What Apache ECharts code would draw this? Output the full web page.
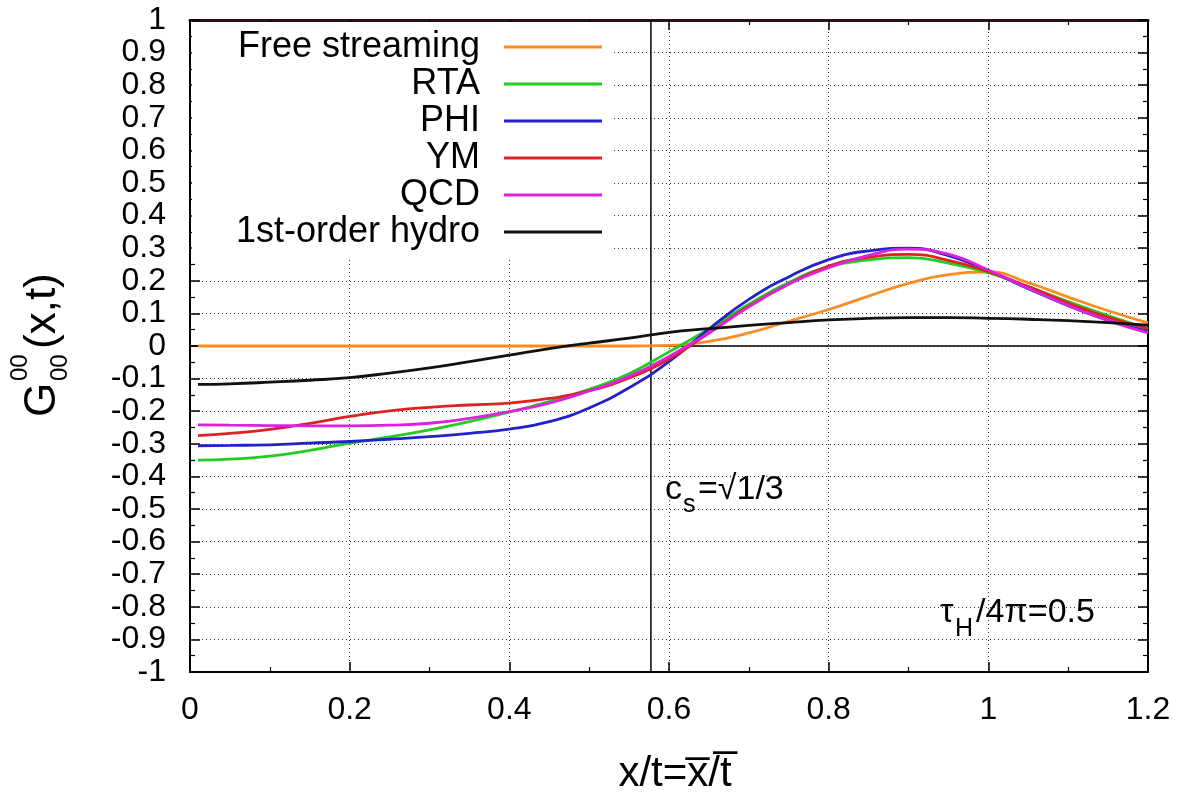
<!DOCTYPE html>
<html>
<head>
<meta charset="utf-8">
<script src="https://cdn.jsdelivr.net/npm/echarts@6/dist/echarts.min.js"></script>
<style>
html,body{margin:0;padding:0;background:#fff;}
#chart{width:1179px;height:795px;}
</style>
</head>
<body>
<div id="chart"></div>
<script>
// ---- data ----
const xValues = [0.01,0.05,0.10,0.15,0.20,0.25,0.30,0.35,0.40,0.45,0.50,0.55,0.60,0.65,0.70,0.75,0.80,0.85,0.90,0.95,1.00,1.05,1.10,1.15,1.20];
const freeStreaming = [0,0,0,0,0,0,0,0,0,0,0,0,0.002,0.014,0.040,0.076,0.112,0.153,0.192,0.219,0.227,0.194,0.150,0.108,0.071];
const rta   = [-0.350,-0.347,-0.338,-0.320,-0.298,-0.279,-0.257,-0.232,-0.203,-0.170,-0.133,-0.085,-0.018,0.052,0.128,0.195,0.243,0.264,0.271,0.254,0.225,0.182,0.136,0.093,0.052];
const phi   = [-0.306,-0.305,-0.303,-0.298,-0.293,-0.286,-0.278,-0.268,-0.255,-0.232,-0.190,-0.128,-0.048,0.052,0.143,0.212,0.265,0.292,0.300,0.277,0.231,0.176,0.124,0.079,0.045];
const ym    = [-0.275,-0.268,-0.256,-0.237,-0.216,-0.199,-0.188,-0.181,-0.175,-0.161,-0.137,-0.098,-0.040,0.040,0.122,0.190,0.245,0.272,0.281,0.263,0.228,0.182,0.132,0.088,0.054];
const qcd   = [-0.242,-0.243,-0.244,-0.245,-0.245,-0.243,-0.237,-0.222,-0.201,-0.175,-0.138,-0.093,-0.032,0.040,0.120,0.190,0.240,0.278,0.297,0.282,0.233,0.177,0.124,0.078,0.040];
const hydro = [-0.118,-0.116,-0.111,-0.105,-0.097,-0.083,-0.067,-0.048,-0.028,-0.008,0.009,0.024,0.042,0.053,0.063,0.072,0.080,0.085,0.087,0.087,0.085,0.082,0.078,0.072,0.064];
const seriesNames = ['Free streaming','RTA','PHI','YM','QCD','1st-order hydro'];
const seriesColors = ['#ff8c22','#22cc22','#2222cc','#dd2222','#dd22dd','#111111'];
const xTickLabels = ['0','0.2','0.4','0.6','0.8','1','1.2'];
const yTickLabels = ['-1','-0.9','-0.8','-0.7','-0.6','-0.5','-0.4','-0.3','-0.2','-0.1','0','0.1','0.2','0.3','0.4','0.5','0.6','0.7','0.8','0.9','1'];
const soundSpeed = Math.sqrt(1/3);
const xRange = [0, 1.2];
const yRange = [-1, 1];

const FONT = '"Liberation Sans", Arial, sans-serif';
const allSeries = [freeStreaming, rta, phi, ym, qcd, hydro];

function pairs(ys){ return xValues.map((x,i)=>[x, ys[i]]); }

const chart = echarts.init(document.getElementById('chart'), null, {renderer:'canvas'});

const series = [
  { name:'zero', type:'line', data:[[xRange[0],0],[xRange[1],0]], symbol:'none', silent:true,
    lineStyle:{color:'#000', width:1.5}, z:1 },
  { name:'cs', type:'line', data:[[soundSpeed,yRange[0]],[soundSpeed,yRange[1]]], symbol:'none', silent:true,
    lineStyle:{color:'#000', width:1.5}, z:1 }
];
allSeries.forEach((ys,i)=>{
  series.push({
    name: seriesNames[i], type:'line', data: pairs(ys), symbol:'none', showSymbol:false,
    smooth: 0.5, lineStyle:{color: seriesColors[i], width:2.8}, itemStyle:{color: seriesColors[i]}, z: 3+i
  });
});

const tickCommon = { show:true, inside:true, length:10, lineStyle:{color:'#000', width:1.5} };
const minorCommon = { show:true, splitNumber:2, length:5, lineStyle:{color:'#000', width:1.2} };

const option = {
  animation:false,
  backgroundColor:'#fff',
  grid:{ left:190, right:31, top:20, bottom:123, containLabel:false },
  legend:{
    data: seriesNames, orient:'vertical', left:192, top:22, align:'right',
    backgroundColor:'#fff', padding:[7,10,8,0], itemGap:1,
    icon:'rect', itemWidth:98, itemHeight:3, z:10,
    textStyle:{ fontFamily:FONT, fontSize:36, color:'#000', width:288, align:'right', lineHeight:36, padding:[0,19,0,0] }
  },
  xAxis:[
    { type:'value', min:xRange[0], max:xRange[1], interval:0.2, position:'bottom',
      axisLine:{show:true, onZero:false, lineStyle:{color:'#000', width:2}},
      axisTick: tickCommon, minorTick: minorCommon,
      splitLine:{show:true, lineStyle:{color:'#333', width:1, type:[1,3]}},
      axisLabel:{ fontFamily:FONT, fontSize:32, color:'#000', margin:22,
        formatter:(v)=>xTickLabels[Math.round(v/0.2)] } },
    { type:'value', min:xRange[0], max:xRange[1], interval:0.2, position:'top',
      axisLine:{show:true, onZero:false, lineStyle:{color:'#2a0f1e', width:3}},
      axisTick: tickCommon, minorTick: minorCommon, splitLine:{show:false}, axisLabel:{show:false} }
  ],
  yAxis:[
    { type:'value', min:yRange[0], max:yRange[1], interval:0.1, position:'left',
      axisLine:{show:true, onZero:false, lineStyle:{color:'#000', width:2}},
      axisTick: tickCommon, minorTick: minorCommon,
      splitLine:{show:true, lineStyle:{color:'#333', width:1, type:[1,3]}},
      axisLabel:{ fontFamily:FONT, fontSize:32, color:'#000', margin:24,
        formatter:(v)=>yTickLabels[Math.round((v+1)*10)] } },
    { type:'value', min:yRange[0], max:yRange[1], interval:0.1, position:'right',
      axisLine:{show:true, onZero:false, lineStyle:{color:'#000', width:2}},
      axisTick: tickCommon, minorTick: minorCommon, splitLine:{show:false}, axisLabel:{show:false} }
  ],
  series: series,
  graphic:[
    { type:'group', x:43, y:417, rotation:Math.PI/2, children:[
      { type:'text', x:0, y:0, style:{ text:'G', font:'44px '+FONT, fill:'#000', align:'left', verticalAlign:'middle' } },
      { type:'text', x:36, y:-23, style:{ text:'00', font:'24px '+FONT, fill:'#000', align:'left', verticalAlign:'middle' } },
      { type:'text', x:36, y:17, style:{ text:'00', font:'24px '+FONT, fill:'#000', align:'left', verticalAlign:'middle' } },
      { type:'text', x:68, y:0, style:{ text:'(x,t)', font:'44px '+FONT, fill:'#000', align:'left', verticalAlign:'middle' } }
    ]},
    { type:'text', x:675, y:774, style:{ text:'x/t=x\u0305/t\u0305', font:'42px '+FONT, fill:'#000', align:'center', verticalAlign:'middle' } },
    { type:'text', x:665, y:490, style:{ text:'c', font:'34px '+FONT, fill:'#000', align:'left', verticalAlign:'middle' } },
    { type:'text', x:683, y:505, style:{ text:'s', font:'25px '+FONT, fill:'#000', align:'left', verticalAlign:'middle' } },
    { type:'text', x:698, y:490, style:{ text:'=\u221A1/3', font:'34px '+FONT, fill:'#000', align:'left', verticalAlign:'middle' } },
    { type:'text', x:940, y:613, style:{ text:'\u03C4', font:'34px '+FONT, fill:'#000', align:'left', verticalAlign:'middle' } },
    { type:'text', x:955, y:629, style:{ text:'H', font:'25px '+FONT, fill:'#000', align:'left', verticalAlign:'middle' } },
    { type:'text', x:976, y:613, style:{ text:'/4\u03C0=0.5', font:'34px '+FONT, fill:'#000', align:'left', verticalAlign:'middle' } }
  ]
};
chart.setOption(option);
</script>
</body>
</html>
